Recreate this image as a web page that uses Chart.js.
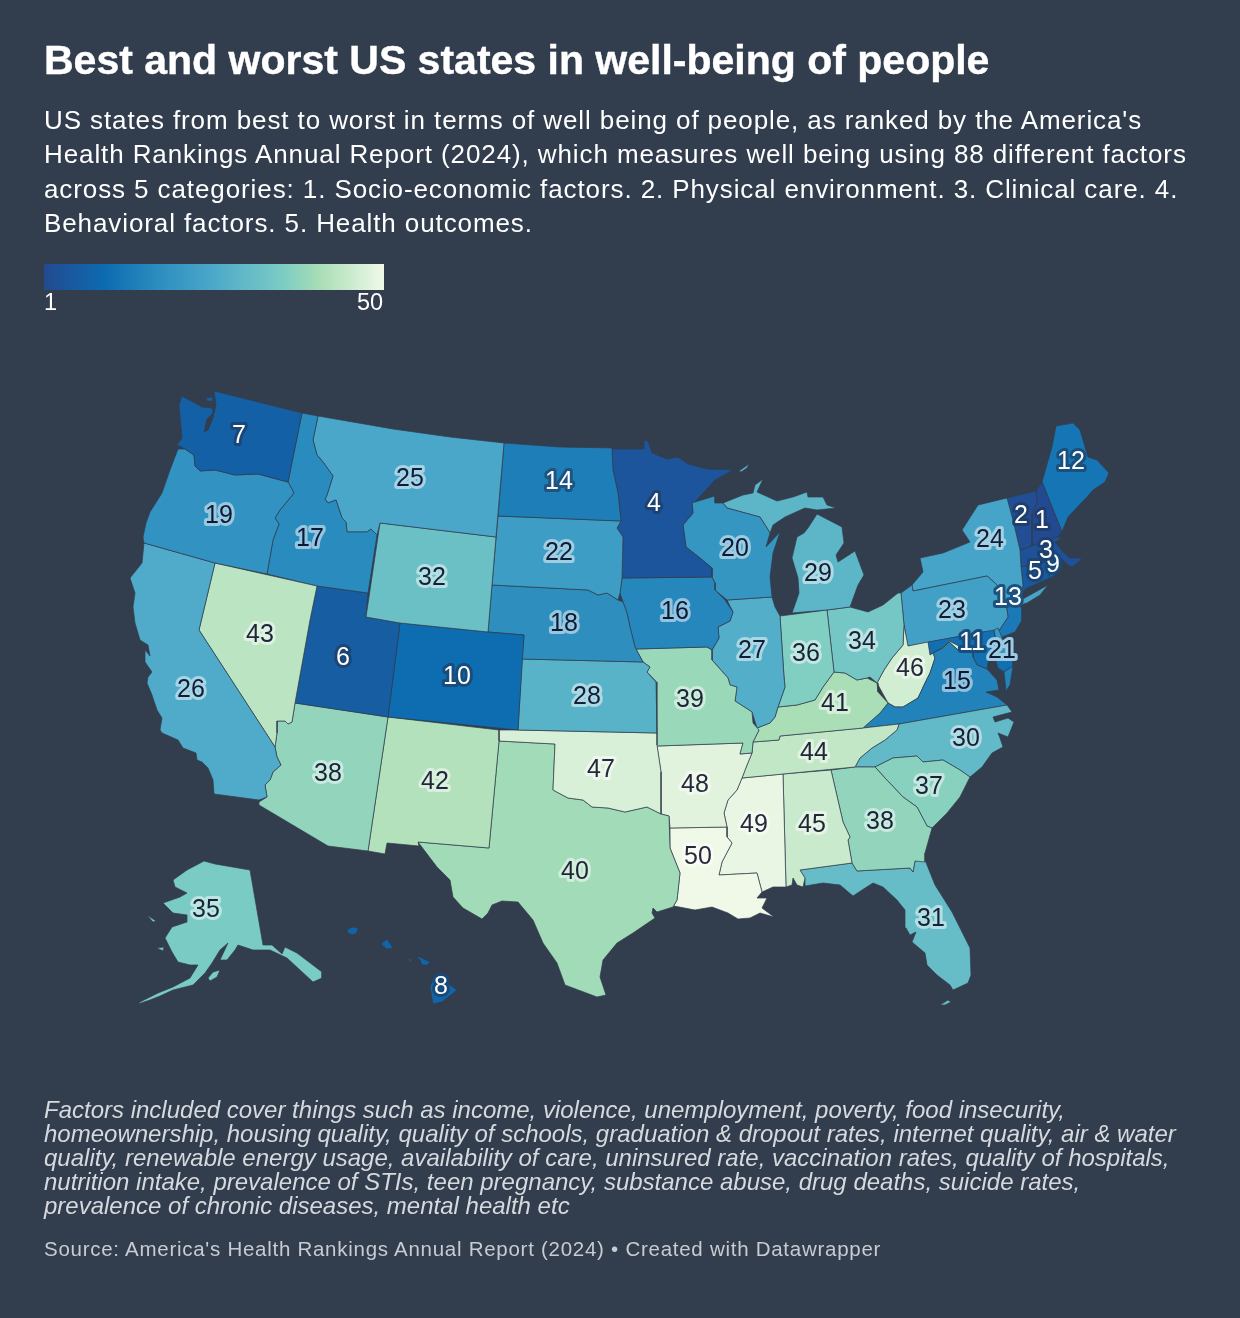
<!DOCTYPE html>
<html>
<head>
<meta charset="utf-8">
<title>Best and worst US states in well-being of people</title>
<script src="https://cdn.jsdelivr.net/npm/chart.js@4"></script>
<style>
  html, body { margin: 0; padding: 0; background: #323d4e; }
  #page { position: relative; width: 1240px; height: 1318px; overflow: hidden; font-family: "Liberation Sans", Arial, sans-serif; }
  #map { position: absolute; left: 0; top: 0; }
  #page div { position: absolute; }
  #title { left: 44px; top: 36px; font-size: 41px; line-height: 48px; font-weight: 700; color: #fff; white-space: nowrap; -webkit-text-stroke: 0.4px #fff; }
  #desc { left: 44px; top: 103px; font-size: 26px; line-height: 34.3px; letter-spacing: 0.9px; color: #fff; white-space: nowrap; }
  #bar { left: 44px; top: 264px; width: 340px; height: 26px;
    background: linear-gradient(to right, #234a90 0%, #0d6bb0 18%, #2b8cbe 33%, #4aa7ca 49%, #7bccc4 70%, #a8ddb5 81%, #f0f9e8 100%); }
  .tick { top: 290px; font-size: 23.5px; line-height: 24px; color: #fff; }
  #note { left: 44px; top: 1098px; font-size: 24px; line-height: 24px; font-style: italic; color: #d6d9dd; white-space: nowrap; }
  #source { left: 44px; top: 1237px; font-size: 20.5px; line-height: 24px; letter-spacing: 0.73px; color: #c8ccd2; white-space: nowrap; }
</style>
</head>
<body>
<div id="page">
  <canvas id="map" width="1240" height="1318"></canvas>
  <div id="title">Best and worst US states in well-being of people</div>
  <div id="desc">US states from best to worst in terms of well being of people, as ranked by the America's<br>Health Rankings Annual Report (2024), which measures well being using 88 different factors<br>across 5 categories: 1. Socio-economic factors. 2. Physical environment. 3. Clinical care. 4.<br>Behavioral factors. 5. Health outcomes.</div>
  <div id="bar"></div>
  <div class="tick" style="left:44px">1</div>
  <div class="tick" style="left:357px">50</div>
  <div id="note">Factors included cover things such as income, violence, unemployment, poverty, food insecurity,<br>homeownership, housing quality, quality of schools, graduation &amp; dropout rates, internet quality, air &amp; water<br>quality, renewable energy usage, availability of care, uninsured rate, vaccination rates, quality of hospitals,<br>nutrition intake, prevalence of STIs, teen pregnancy, substance abuse, drug deaths, suicide rates,<br>prevalence of chronic diseases, mental health etc</div>
  <div id="source">Source: America's Health Rankings Annual Report (2024) • Created with Datawrapper</div>
</div>
<script>
// ranks, one per state, same order as the label positions
const states = ['WA','OR','CA','NV','ID','MT','WY','UT','AZ','CO','NM','ND','SD','NE','KS','OK','TX','MN','IA','MO','AR','LA','WI','IL','MI','IN','OH','KY','TN','MS','AL','GA','FL','SC','NC','VA','WV','MD','DE','PA','NJ','NY','CT','RI','MA','VT','NH','ME','AK','HI'];
const ranks = [7,19,26,43,17,25,32,6,38,10,42,14,22,18,28,47,40,4,16,39,48,50,20,27,29,36,34,41,44,49,45,38,31,37,30,15,46,11,21,23,13,24,5,9,3,2,1,12,35,8];
const labelX = [239,219,191,260,310,410,432,343,328,457,435,559,559,564,587,601,575,654,675,690,695,698,735,752,818,806,862,835,814,754,812,880,931,929,966,957,910,972,1002,952,1008,990,1035,1053,1046,1021,1042,1071,206,441];
const labelY = [436,516,690,635,539,479,578,658,774,677,782,482,553,624,697,770,872,504,612,700,785,857,549,651,574,654,642,704,753,825,825,822,919,787,739,682,669,643,651,611,598,540,572,565,551,516,521,462,910,987];

// colour stops of the scale, rank 1 to 50
const stopAt = [0, 0.18, 0.33, 0.49, 0.70, 0.81, 1];
const stopColors = [[35,74,144],[13,107,176],[43,140,190],[74,167,202],[123,204,196],[168,221,181],[240,249,232]];

// state outlines, in the map's x/y units
const WA = [[214,391],[302,413],[288,482],[258,474],[235,475],[215,470],[200,471],[195,466],[194,455],[185,449],[177,445],[182,438],[179,405],[182,396],[202,407],[212,408],[213,413],[207,419],[204,432],[208,430],[213,418],[216,405]];
const WA_ISLE = [[206,398],[212,397],[213,401],[207,401]];
const OR = [[178,449],[185,449],[194,455],[195,466],[200,471],[215,470],[235,475],[258,474],[288,482],[294,493],[280,510],[275,518],[279,524],[273,540],[267,574],[215,563],[144,543],[143,537],[146,523],[150,512],[162,493],[170,470]];
const CA = [[144,543],[215,563],[199,630],[275,747],[277,757],[281,765],[273,772],[270,780],[265,785],[267,797],[259,800],[214,794],[213,780],[208,768],[202,762],[197,760],[196,753],[183,748],[178,740],[162,733],[160,730],[162,718],[157,710],[152,695],[147,683],[148,677],[152,672],[145,662],[145,650],[150,656],[148,645],[140,640],[135,623],[133,607],[135,593],[130,578],[142,563]];
const NV = [[215,563],[317,586],[310,620],[295,703],[292,722],[288,724],[285,721],[277,721],[277,733],[275,747],[199,630]];
const ID = [[302,413],[318,416],[313,440],[317,455],[323,462],[333,476],[327,495],[325,499],[328,503],[336,500],[342,518],[346,522],[347,532],[367,532],[371,529],[377,535],[368,593],[317,586],[267,574],[273,540],[279,524],[275,518],[280,510],[294,493],[288,482]];
const MT = [[318,416],[393,429],[450,437],[504,443],[496,537],[380,523],[377,535],[371,529],[367,532],[347,532],[346,522],[342,518],[336,500],[328,503],[325,499],[327,495],[333,476],[323,462],[317,455],[313,440]];
const WY = [[380,523],[496,537],[488,632],[400,623],[366,617]];
const UT = [[317,586],[368,593],[366,617],[400,623],[388,717],[295,703],[310,620]];
const AZ = [[388,717],[368,851],[328,846],[259,805],[259,802],[267,797],[265,785],[270,780],[273,772],[281,765],[277,757],[275,747],[277,733],[277,721],[285,721],[288,724],[292,722],[295,703]];
const CO = [[400,623],[488,632],[524,635],[518,730],[388,717]];
const NM = [[388,717],[499,730],[499,741],[489,848],[418,842],[419,846],[387,843],[385,854],[368,851]];
const ND = [[504,443],[560,447],[612,448],[613,470],[618,493],[621,521],[498,516]];
const SD = [[498,516],[621,521],[617,528],[623,537],[622,578],[620,593],[618,600],[607,593],[598,595],[588,590],[492,585]];
const NE = [[492,585],[588,590],[598,595],[607,593],[618,600],[623,602],[627,613],[630,627],[635,647],[643,662],[522,659],[524,635],[488,632]];
const KS = [[522,659],[643,662],[650,667],[647,672],[656,682],[657,733],[518,730]];
const OK = [[499,730],[518,730],[657,733],[657,745],[661,772],[661,814],[647,807],[625,812],[608,808],[592,807],[583,800],[568,798],[553,790],[555,744],[499,741]];
const TX = [[499,741],[555,744],[553,790],[568,798],[583,800],[592,807],[608,808],[625,812],[647,807],[661,814],[669,816],[670,848],[680,873],[677,900],[673,907],[657,912],[653,908],[652,913],[655,918],[633,933],[617,943],[603,960],[600,977],[606,995],[597,997],[565,985],[557,963],[543,943],[533,920],[518,902],[502,901],[492,905],[488,913],[482,919],[463,908],[453,897],[450,880],[437,867],[418,842],[489,848]];
const MN = [[612,449],[644,449],[644,440],[648,441],[652,453],[667,459],[678,457],[688,464],[707,469],[733,470],[715,480],[695,502],[692,502],[693,513],[683,525],[686,547],[700,558],[712,568],[712,577],[622,578],[623,537],[617,528],[621,521],[618,493],[613,470]];
const IA = [[622,578],[712,577],[715,583],[715,590],[725,600],[733,612],[730,621],[718,627],[719,638],[712,650],[707,647],[636,649],[635,647],[630,627],[627,613],[623,602],[620,593]];
const MO = [[636,649],[707,647],[712,650],[712,660],[728,678],[730,685],[737,687],[735,701],[752,712],[753,723],[759,730],[753,742],[752,753],[740,754],[743,743],[657,746],[657,733],[656,682],[647,672],[650,667],[643,662]];
const AR = [[657,746],[743,743],[740,754],[752,753],[747,765],[742,778],[737,790],[728,800],[724,813],[727,827],[670,828],[669,816],[661,814],[661,772]];
const LA = [[670,828],[727,827],[727,837],[732,843],[722,862],[719,875],[757,873],[762,892],[757,898],[767,898],[762,908],[774,917],[760,913],[750,918],[738,919],[728,913],[720,910],[712,907],[695,910],[674,906],[673,907],[677,900],[680,873],[670,848]];
const WI = [[695,502],[715,496],[715,503],[723,503],[727,508],[760,517],[767,528],[770,533],[766,547],[780,532],[773,553],[770,577],[772,597],[727,600],[715,590],[715,583],[712,577],[712,568],[700,558],[686,547],[683,525],[693,513],[692,502]];
const IL = [[727,600],[772,597],[775,607],[780,616],[784,677],[785,687],[778,707],[775,717],[770,723],[757,728],[752,712],[735,701],[737,687],[730,685],[728,678],[712,660],[712,650],[719,638],[718,627],[730,621],[733,612]];
const MI_UP = [[723,503],[743,495],[753,493],[755,485],[763,479],[757,492],[777,501],[793,497],[807,492],[808,497],[823,497],[827,505],[836,508],[817,510],[805,508],[785,517],[773,525],[770,533],[767,528],[760,517],[727,508]];
const MI_LOW = [[817,514],[842,527],[844,543],[836,555],[838,562],[855,551],[864,575],[858,585],[850,607],[827,610],[792,613],[799,593],[798,578],[792,558],[797,537],[804,533],[808,528]];
const MI_ROYALE = [[739,471],[749,464],[747,468],[741,472]];
const IN = [[780,616],[827,610],[834,672],[823,687],[815,700],[797,705],[778,707],[785,687],[784,677]];
const OH = [[827,610],[850,607],[868,612],[883,605],[898,593],[901,593],[904,625],[903,645],[892,658],[884,670],[877,683],[870,677],[867,678],[857,680],[845,673],[834,672]];
const KY = [[834,672],[845,673],[857,680],[867,678],[877,683],[878,692],[888,703],[880,713],[863,728],[780,736],[779,740],[753,742],[759,730],[757,728],[770,723],[775,717],[778,707],[797,705],[815,700],[823,687]];
const TN = [[899,724],[897,730],[885,740],[872,748],[860,758],[855,767],[742,778],[747,765],[752,753],[753,742],[779,740],[780,736],[863,728]];
const MS = [[742,778],[783,774],[786,887],[773,887],[762,892],[757,873],[719,875],[722,862],[732,843],[727,837],[727,827],[724,813],[728,800],[737,790]];
const AL = [[783,774],[831,770],[843,822],[850,837],[848,840],[852,863],[800,870],[805,878],[803,887],[797,885],[793,878],[792,885],[786,887]];
const GA = [[831,770],[855,767],[875,767],[885,778],[903,797],[917,807],[927,826],[932,828],[925,853],[925,862],[915,861],[913,872],[910,868],[857,871],[852,863],[848,840],[850,837],[843,822]];
const FL = [[800,870],[852,863],[857,871],[910,868],[913,872],[915,861],[925,860],[935,885],[952,912],[970,948],[971,975],[968,983],[953,990],[950,985],[937,975],[927,965],[925,953],[912,942],[916,932],[910,935],[906,928],[905,910],[897,900],[883,887],[873,883],[862,890],[853,896],[840,885],[823,883],[805,886],[805,878]];
const FL_KEYS = [[940,1005],[948,1000],[951,1002],[945,1005]];
const SC = [[875,767],[893,758],[917,756],[923,762],[943,760],[960,770],[970,777],[960,797],[947,813],[932,828],[927,826],[917,807],[903,797],[885,778]];
const NC = [[899,724],[1007,705],[1012,712],[993,717],[995,722],[1008,718],[1014,722],[1008,737],[998,733],[1000,738],[1003,747],[992,753],[982,767],[970,777],[960,770],[943,760],[923,762],[917,756],[893,758],[875,767],[855,767],[860,758],[872,748],[885,740],[897,730]];
const VA = [[863,728],[880,713],[888,703],[895,707],[903,707],[918,698],[925,683],[930,673],[935,658],[933,653],[943,648],[949,642],[958,650],[973,653],[973,657],[977,665],[987,669],[997,680],[999,690],[986,692],[997,697],[1007,705],[899,724]];
const VA_SHORE = [[1004,672],[1013,666],[1010,685],[1006,691]];
const WV = [[904,625],[908,646],[928,642],[930,655],[943,647],[949,641],[959,646],[958,650],[949,642],[943,648],[933,653],[935,658],[930,673],[925,683],[918,698],[903,707],[895,707],[888,703],[877,683],[884,670],[892,658],[903,645]];
const MD = [[928,642],[994,630],[998,655],[1013,660],[1013,666],[1004,672],[998,668],[994,655],[989,652],[988,663],[987,669],[977,665],[973,657],[973,653],[958,650],[959,646],[949,641],[943,647],[930,655]];
const DE = [[994,630],[998,628],[1003,640],[1013,660],[998,655]];
const PA = [[901,593],[912,585],[913,591],[987,576],[995,583],[1003,592],[1005,600],[1007,610],[1008,617],[998,632],[984,632],[908,646],[904,625]];
const NJ = [[1005,600],[1015,603],[1022,608],[1022,620],[1015,632],[1002,637],[998,632],[1008,617],[1007,610]];
const NY = [[912,585],[923,572],[920,558],[943,553],[970,542],[962,530],[978,505],[1007,498],[1013,520],[1020,550],[1021,567],[1023,585],[1022,592],[1015,603],[1005,600],[1003,592],[995,583],[987,576],[913,591]];
const NY_LONG = [[1021,600],[1048,585],[1040,595],[1027,603],[1020,605]];
const VT = [[1007,498],[1036,491],[1037,502],[1032,513],[1032,546],[1020,550],[1013,520]];
const NH = [[1036,491],[1042,482],[1062,532],[1057,537],[1032,546],[1032,513],[1037,502]];
const ME = [[1042,482],[1052,447],[1056,426],[1073,423],[1080,430],[1088,457],[1097,460],[1109,473],[1105,482],[1093,490],[1087,497],[1082,502],[1068,517],[1062,532]];
const MA = [[1020,550],[1032,546],[1057,537],[1062,538],[1055,542],[1063,552],[1070,558],[1080,558],[1082,559],[1072,567],[1068,565],[1060,557],[1053,560],[1045,562],[1021,567]];
const CT = [[1021,567],[1045,562],[1050,578],[1027,588],[1022,592],[1023,585]];
const RI = [[1045,562],[1053,560],[1058,573],[1050,578]];
const AK = [[204,861],[215,864],[250,870],[263,945],[272,945],[282,954],[285,947],[297,953],[322,972],[322,978],[313,982],[300,970],[287,958],[270,950],[253,950],[238,945],[235,950],[227,960],[220,960],[228,943],[220,950],[212,963],[205,973],[193,985],[173,990],[160,996],[150,1000],[138,1004],[140,1002],[158,993],[173,987],[190,978],[198,965],[190,965],[178,962],[172,952],[165,938],[172,927],[187,922],[187,915],[173,913],[163,903],[180,897],[187,893],[175,887],[173,880],[187,870]];
const AK_LAWRENCE = [[147,915],[156,921],[153,922]];
const AK_NUNIVAK = [[157,948],[164,947],[163,951]];
const AK_KODIAK = [[208,978],[213,972],[220,970],[217,977],[210,981]];
const HI_KAUAI = [[347,930],[352,927],[358,928],[357,933],[352,935],[348,933]];
const HI_OAHU = [[381,944],[387,939],[393,948],[387,949]];
const HI_MOLOKAI = [[402,952],[410,953],[403,953]];
const HI_LANAI = [[408,958],[412,960],[410,962]];
const HI_MAUI = [[416,957],[420,957],[430,962],[427,965],[422,965],[420,960]];
const HI_BIG = [[435,974],[440,978],[457,990],[442,1002],[433,1004],[430,987]];

// which outline belongs to which state
const outlines = { WA:[WA,WA_ISLE], OR:[OR], CA:[CA], NV:[NV], ID:[ID], MT:[MT], WY:[WY], UT:[UT], AZ:[AZ], CO:[CO], NM:[NM], ND:[ND], SD:[SD], NE:[NE], KS:[KS], OK:[OK], TX:[TX], MN:[MN], IA:[IA], MO:[MO], AR:[AR], LA:[LA], WI:[WI], IL:[IL], MI:[MI_UP,MI_LOW,MI_ROYALE], IN:[IN], OH:[OH], KY:[KY], TN:[TN], MS:[MS], AL:[AL], GA:[GA], FL:[FL,FL_KEYS], SC:[SC], NC:[NC], VA:[VA,VA_SHORE], WV:[WV], MD:[MD], DE:[DE], PA:[PA], NJ:[NJ], NY:[NY,NY_LONG], CT:[CT], RI:[RI], MA:[MA], VT:[VT], NH:[NH], ME:[ME], AK:[AK,AK_LAWRENCE,AK_NUNIVAK,AK_KODIAK], HI:[HI_KAUAI,HI_OAHU,HI_MOLOKAI,HI_LANAI,HI_MAUI,HI_BIG] };

function rankColor(rank) {
  const t = (rank - 1) / 49;
  let i = 0;
  while (i < stopAt.length - 2 && t > stopAt[i + 1]) i++;
  const f = (t - stopAt[i]) / (stopAt[i + 1] - stopAt[i]);
  return stopColors[i].map((c, k) => Math.round(c + (stopColors[i + 1][k] - c) * f));
}
function mix(c, other, f) {
  return c.map((v, k) => Math.round(v + (other[k] - v) * f));
}
function css(c) {
  return 'rgb(' + c.join(',') + ')';
}

const datasets = [];
states.forEach(function (st, i) {
  outlines[st].forEach(function (shape) {
    const pts = shape.concat([shape[0]]).map(p => ({ x: p[0], y: p[1] }));
    datasets.push({
      label: st,
      data: pts,
      showLine: true,
      fill: 'shape',
      tension: 0,
      pointRadius: 0,
      pointHoverRadius: 0,
      backgroundColor: css(rankColor(ranks[i])),
      borderColor: '#323d4e',
      borderWidth: 0.7
    });
  });
});

const rankLabels = {
  id: 'rankLabels',
  afterDatasetsDraw(chart) {
    const c = chart.ctx;
    c.save();
    c.font = '25px "Liberation Sans", Arial, sans-serif';
    c.textAlign = 'center';
    c.textBaseline = 'middle';
    c.lineJoin = 'round';
    ranks.forEach(function (r, i) {
      const x = chart.scales.x.getPixelForValue(labelX[i]);
      const y = chart.scales.y.getPixelForValue(labelY[i]);
      const fillC = rankColor(r);
      const white = r <= 14;
      c.lineWidth = 6;
      c.strokeStyle = css(white ? mix(fillC, [30, 50, 80], 0.55) : mix(fillC, [255, 255, 255], 0.5));
      c.strokeText(r, x, y);
      c.fillStyle = white ? '#fff' : css(mix(fillC, [5, 5, 30], 0.85));
      c.fillText(r, x, y);
    });
    c.restore();
  }
};

new Chart(document.getElementById('map'), {
  type: 'scatter',
  data: { datasets: datasets },
  options: {
    responsive: false,
    animation: false,
    layout: { padding: 0 },
    events: [],
    scales: {
      x: { type: 'linear', min: 0, max: 1240, display: false },
      y: { type: 'linear', min: 0, max: 1318, reverse: true, display: false }
    },
    plugins: { legend: { display: false }, tooltip: { enabled: false } }
  },
  plugins: [rankLabels]
});
</script>
</body>
</html>
